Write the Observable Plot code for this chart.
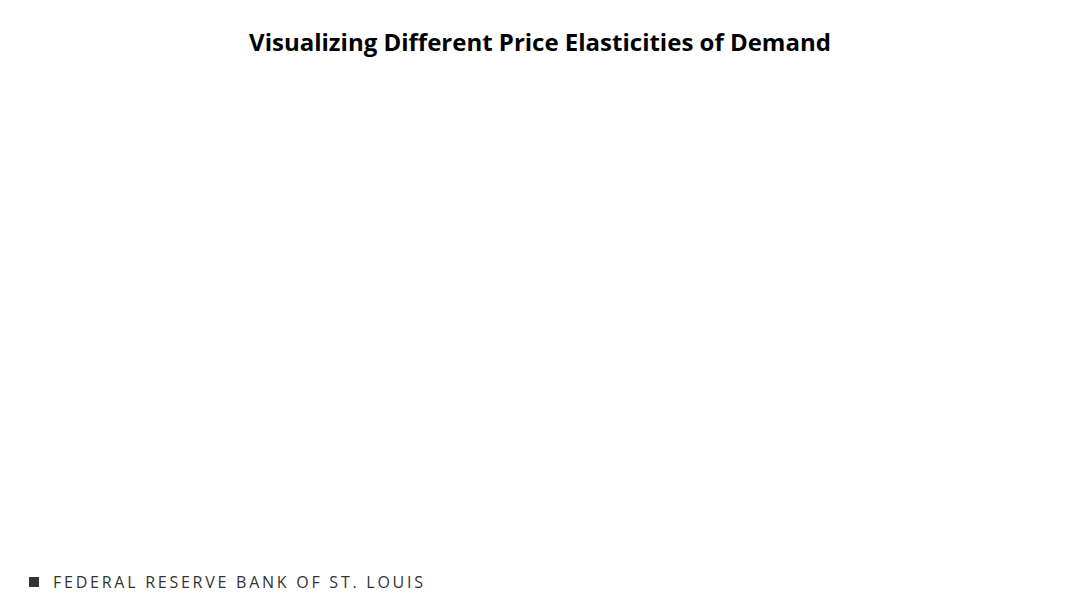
<!DOCTYPE html>
<html>
<head>
<meta charset="utf-8">
<script src="https://cdn.jsdelivr.net/npm/d3@7"></script>
<script src="https://cdn.jsdelivr.net/npm/@observablehq/plot@0.6"></script>
<style>
  html, body { margin: 0; padding: 0; background: #fff; }
  body { width: 1080px; height: 608px; position: relative; overflow: hidden; font-family: "Open Sans", Lato, sans-serif; }
  #title { position: absolute; top: 25px; left: 0; width: 1080px; text-align: center; font-family: "Open Sans", sans-serif; font-weight: 700; font-size: 24px; color: #000; letter-spacing: 0px; }
  #chart { position: absolute; top: 70px; left: 0; }
  #footer { position: absolute; top: 571px; left: 29px; display: flex; align-items: center; font-family: "Open Sans", sans-serif; font-size: 16px; letter-spacing: 2.75px; color: #333; }
  #footer .sq { width: 10px; height: 10px; background: #333; margin-right: 14px; }
</style>
</head>
<body>
<div id="title">Visualizing Different Price Elasticities of Demand</div>
<div id="chart"></div>
<div id="footer"><span class="sq"></span><span>FEDERAL RESERVE BANK OF ST. LOUIS</span></div>
<script>
// The reference chart shows no plotted data: these series are empty.
const quantity = [];
const price = [];

const data = quantity.map((q, i) => ({ q, p: price[i] }));

const chart = Plot.plot({
  width: 1080,
  height: 480,
  margin: 0,
  x: { axis: null, domain: [0, 1] },
  y: { axis: null, domain: [0, 1] },
  marks: [
    Plot.line(data, { x: "q", y: "p", stroke: "#000" })
  ]
});
document.getElementById("chart").appendChild(chart);
</script>
</body>
</html>
